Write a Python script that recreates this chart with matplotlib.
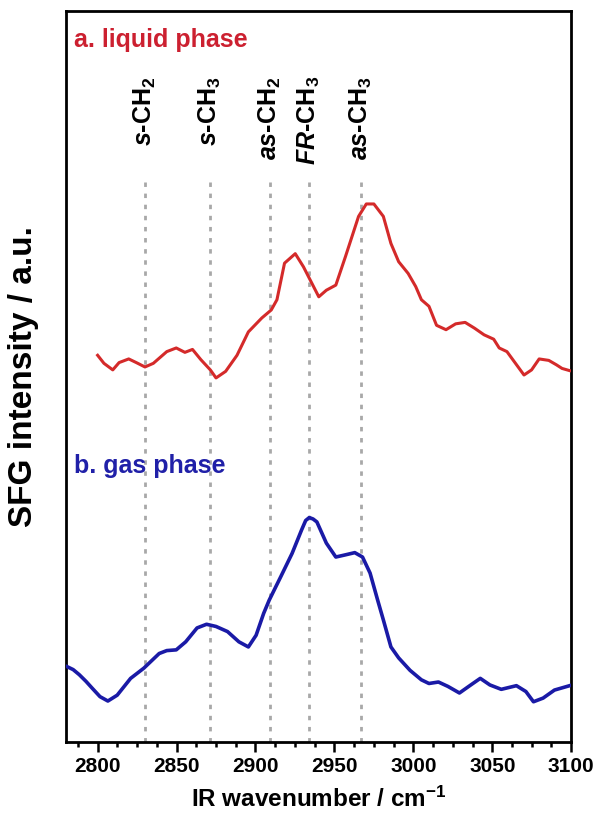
import matplotlib
matplotlib.use("Agg")
import matplotlib.pyplot as plt
from matplotlib.ticker import MultipleLocator

plt.rcParams["font.family"] = ["Liberation Sans", "DejaVu Sans"]
plt.rcParams["font.weight"] = "bold"
plt.rcParams["axes.labelweight"] = "bold"
plt.rcParams["mathtext.fontset"] = "custom"
plt.rcParams["mathtext.rm"] = "Liberation Sans:bold"
plt.rcParams["mathtext.bf"] = "Liberation Sans:bold"
plt.rcParams["mathtext.it"] = "Liberation Sans:bold:italic"
plt.rcParams["mathtext.default"] = "rm"

# SFG spectrum, liquid phase (wavenumber in cm^-1, intensity in a.u., offset)
liquid_wn = [2800, 2804, 2809.6, 2813.6, 2819.7, 2824.5, 2830, 2835.3, 2843.8,
             2849.8, 2855.3, 2860.1, 2865.4, 2871.4, 2875, 2881.1, 2888.3,
             2895.5, 2904, 2910, 2913.6, 2918.4, 2925.2, 2930.4, 2940.1,
             2944.9, 2950.9, 2957, 2965.3, 2970.2, 2975, 2981, 2985.8, 2990.7,
             2996.7, 3001.5, 3005.1, 3009.9, 3014.7, 3020.7, 3026.8, 3032.8,
             3038.8, 3044.8, 3050.9, 3054.4, 3059.3, 3070.1, 3074.9, 3079.7,
             3085.8, 3090.6, 3094.2, 3099]
liquid_int = [52.9, 51.8, 50.9, 51.9, 52.4, 51.9, 51.3, 51.8, 53.4, 53.9, 53.3,
              53.7, 52.3, 50.9, 49.8, 50.7, 52.9, 56.1, 58.0, 59.1, 60.5, 65.5,
              66.8, 65.0, 60.9, 61.8, 62.5, 66.4, 71.9, 73.6, 73.6, 71.9, 68.2,
              65.7, 64.1, 62.3, 60.5, 59.6, 57.0, 56.4, 57.2, 57.4, 56.6, 55.7,
              55.1, 53.9, 53.4, 50.2, 50.9, 52.4, 52.2, 51.6, 51.1, 50.8]

# SFG spectrum, gas phase
gas_wn = [2780.7, 2784.5, 2788.4, 2792.6, 2796.8, 2801.5, 2806.5, 2812.4,
          2820.9, 2829.3, 2839, 2843.8, 2849.8, 2855.8, 2863, 2869, 2875,
          2882.3, 2889.5, 2895.5, 2900.4, 2905.2, 2908.7, 2916, 2923.2,
          2929.2, 2931.8, 2934.1, 2936.5, 2938.9, 2944.9, 2950.9, 2957,
          2962.9, 2967.8, 2972.6, 2977.4, 2981, 2985.8, 2990.7, 2997.9,
          3005.1, 3009.9, 3015.9, 3021.9, 3029.2, 3036.4, 3042.4, 3048.5,
          3055.7, 3065.3, 3071.3, 3076.1, 3082.2, 3089.4, 3099]
gas_int = [10.3, 9.9, 9.2, 8.3, 7.3, 6.2, 5.6, 6.4, 8.7, 10.1, 12.1, 12.5,
           12.6, 13.7, 15.6, 16.1, 15.8, 15.1, 13.7, 13.0, 14.6, 17.6, 19.4,
           22.6, 25.8, 29.0, 30.3, 30.7, 30.5, 30.1, 27.2, 25.3, 25.6, 25.9,
           25.3, 23.1, 19.4, 16.7, 13.0, 11.5, 9.8, 8.5, 8.0, 8.2, 7.6, 6.7,
           7.8, 8.7, 7.8, 7.2, 7.7, 6.9, 5.5, 6.0, 7.1, 7.7]

# Vibrational mode assignments
mode_pos = [2830, 2871, 2909, 2934, 2967]
mode_labels = [r"$\mathit{s}$-CH$_2$", r"$\mathit{s}$-CH$_3$",
               r"$\mathit{as}$-CH$_2$", r"$\mathit{FR}$-CH$_3$",
               r"$\mathit{as}$-CH$_3$"]

fig = plt.figure(figsize=(5.95, 8.14), dpi=100)
ax = fig.add_axes([0.111, 0.0885, 0.849, 0.898])

ax.set_xlim(2780, 3100)
ax.set_ylim(0, 100)

for x in mode_pos:
    ax.plot([x, x], [0, 77.3], color="#a8a8a8", lw=2.0,
            linestyle=(0, (1.6, 2.4)), zorder=1)

for x, lab in zip(mode_pos, mode_labels):
    ax.text(x, 91.1, lab, rotation=90, ha="center", va="top",
            fontsize=18, color="black")

ax.plot(liquid_wn, liquid_int, color="#d42a2a", lw=2.2, zorder=3)
ax.plot(gas_wn, gas_int, color="#1a1aa6", lw=2.6, zorder=3)

ax.text(2785, 96.0, "a. liquid phase", color="#cc2030", fontsize=18,
        ha="left", va="center")
ax.text(2785, 37.8, "b. gas phase", color="#2020a8", fontsize=18,
        ha="left", va="center")

ax.xaxis.set_major_locator(MultipleLocator(50))
ax.xaxis.set_minor_locator(MultipleLocator(12.5))
ax.tick_params(axis="x", which="major", direction="out", length=7, width=1.8,
               labelsize=15, pad=4)
ax.tick_params(axis="x", which="minor", direction="out", length=3.5, width=1.8)
ax.set_yticks([])
for s in ax.spines.values():
    s.set_linewidth(2.0)

ax.set_xlabel("IR wavenumber / cm$^{-1}$", fontsize=17.5)
ax.xaxis.label.set_va("center")
ax.xaxis.set_label_coords(0.5, -0.079)
ax.set_ylabel("SFG intensity / a.u.", fontsize=24)
ax.yaxis.label.set_va("center")
ax.yaxis.set_label_coords(-0.084, 0.5)

fig.savefig("out.png", dpi=100)
